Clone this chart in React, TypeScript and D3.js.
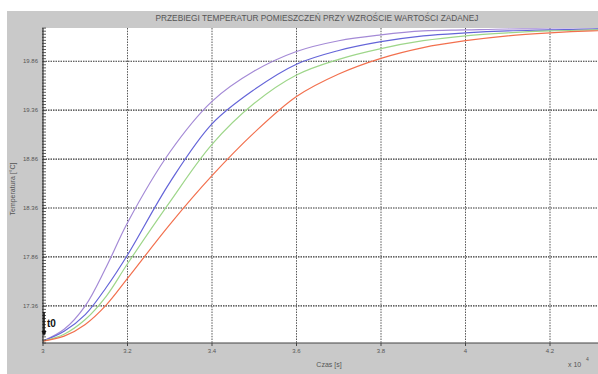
import * as d3 from "d3"

// czas w jednostkach x10^4 s
const times = [3.0, 3.05, 3.1, 3.15, 3.2, 3.3, 3.4, 3.5, 3.6, 3.7, 3.8, 3.9, 4.0, 4.1, 4.2, 4.3, 4.4]

const purple = [17.0, 17.12, 17.36, 17.76, 18.21, 18.93, 19.45, 19.76, 19.96, 20.07, 20.13, 20.17, 20.18, 20.19, 20.19, 20.19, 20.19]
const blue = [17.0, 17.1, 17.27, 17.55, 17.88, 18.62, 19.22, 19.57, 19.83, 19.97, 20.06, 20.12, 20.15, 20.17, 20.18, 20.19, 20.19]
const green = [17.0, 17.07, 17.22, 17.46, 17.79, 18.42, 19.01, 19.43, 19.72, 19.88, 19.99, 20.07, 20.12, 20.15, 20.17, 20.18, 20.19]
const red = [17.0, 17.05, 17.17, 17.37, 17.64, 18.19, 18.69, 19.13, 19.5, 19.73, 19.89, 20.0, 20.07, 20.12, 20.15, 20.17, 20.18]

const xTicks = [3, 3.2, 3.4, 3.6, 3.8, 4, 4.2]
const yTicks = [17.36, 17.86, 18.36, 18.86, 19.36, 19.86]

const series = [
  { name: "purple", values: purple, color: "#a48ad6" },
  { name: "blue", values: blue, color: "#6464d8" },
  { name: "green", values: green, color: "#9ed68a" },
  { name: "red", values: red, color: "#f2704e" },
]

const W = 598
const H = 374
const left = 43
const top = 28
const bottom = 343

export default function App() {
  const x = d3.scaleLinear().domain([3, 4.4]).range([left, left + 84.5 * 7])
  const y = d3.scaleLinear().domain([16.98, 20.2]).range([bottom, top])

  const line = d3
    .line<number>()
    .x((_, i) => x(times[i]))
    .y((d) => y(d))
    .curve(d3.curveCatmullRom.alpha(0.5))

  const minor = d3.range(16.98, 20.2, 0.03125)
  const font = "'Liberation Sans', Arial, sans-serif"

  return (
    <svg
      width={W}
      height={H}
      style={{ position: "absolute", left: 0, top: 0, display: "block" }}
      fontFamily={font}
    >
      <rect x={0} y={0} width={W} height={H} fill="#ffffff" />
      <rect x={7} y={11} width={W - 7} height={H - 11} fill="#c9c9c9" />
      <rect x={left} y={top} width={W - left} height={bottom - top} fill="#ffffff" />

      <text x={317} y={21} textAnchor="middle" fontSize={8.3} fill="#555">
        PRZEBIEGI TEMPERATUR POMIESZCZEŃ  PRZY WZROŚCIE WARTOŚCI ZADANEJ
      </text>

      {/* siatka */}
      {yTicks.map((t) => (
        <line key={"gy" + t} x1={left} x2={W} y1={y(t)} y2={y(t)}
          stroke="#333" strokeWidth={1.2} strokeDasharray="1.5,1" />
      ))}
      {xTicks.slice(1).map((t) => (
        <line key={"gx" + t} x1={x(t)} x2={x(t)} y1={top} y2={bottom}
          stroke="#555" strokeWidth={1} strokeDasharray="1.5,1.2" />
      ))}

      {/* krzywe */}
      <g>
        {series.map((s) => (
          <path key={s.name} d={line(s.values) || ""} fill="none" stroke={s.color} strokeWidth={1.2} />
        ))}
      </g>

      {/* osie */}
      <line x1={left} x2={W} y1={bottom} y2={bottom} stroke="#444" strokeWidth={1.2} />
      <line x1={left} x2={left} y1={top} y2={bottom} stroke="#333" strokeWidth={1.2} />
      {minor.map((t, i) => (
        <line key={"m" + i} x1={left - 1} x2={left + 3} y1={y(t)} y2={y(t)} stroke="#333" strokeWidth={0.8} />
      ))}
      {xTicks.map((t) => (
        <line key={"tx" + t} x1={x(t)} x2={x(t)} y1={bottom} y2={bottom + 3} stroke="#444" />
      ))}

      {xTicks.map((t) => (
        <text key={"lx" + t} x={x(t)} y={353} textAnchor="middle" fontSize={6} fill="#555">
          {t}
        </text>
      ))}
      {yTicks.map((t) => (
        <text key={"ly" + t} x={38} y={y(t) + 2} textAnchor="end" fontSize={6} fill="#555">
          {t.toFixed(2)}
        </text>
      ))}

      <text x={329} y={367} textAnchor="middle" fontSize={7} fill="#555">Czas [s]</text>
      <text x={568} y={367} fontSize={7} fill="#555">x 10</text>
      <text x={586} y={361} fontSize={5} fill="#555">4</text>
      <text transform="translate(15,189) rotate(-90)" textAnchor="middle" fontSize={7} fill="#555">
        Temperatura [°C]
      </text>

      {/* znacznik t0 */}
      <line x1={44} x2={44} y1={312} y2={333} stroke="#111" strokeWidth={1.6} />
      <path d="M41.5,331 L44,336 L46.5,331 Z" fill="#111" />
      <text x={47} y={327} fontSize={10} fontWeight="bold" fill="#111">t0</text>
    </svg>
  )
}
